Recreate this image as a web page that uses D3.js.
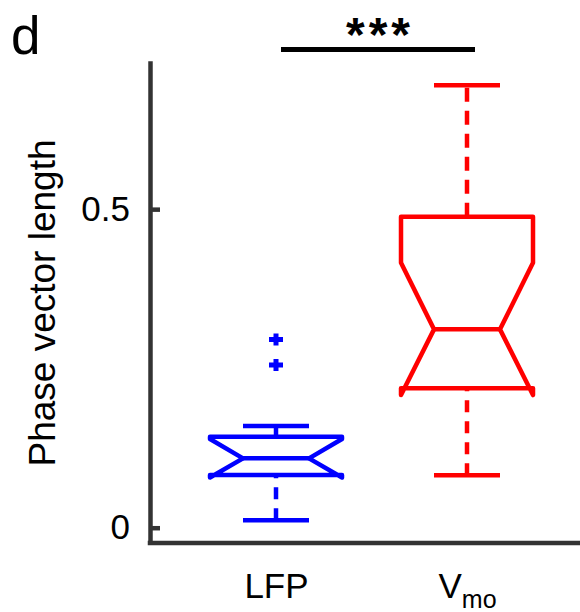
<!DOCTYPE html>
<html>
<head>
<meta charset="utf-8">
<script src="https://cdn.jsdelivr.net/npm/d3@7"></script>
<style>
  body { margin: 0; background: #fff; }
  text { font-family: "Liberation Sans", Arial, sans-serif; }
</style>
</head>
<body>
<div id="chart"></div>
<script>
// groups and box statistics
const groups = ['LFP', 'Vmo'];
const whiskerLo = [0.0116, 0.0822];
const q1 = [0.0827, 0.2187];
const notchLo = [0.0788, 0.2082];
const median = [0.1089, 0.3113];
const notchHi = [0.1392, 0.4158];
const q3 = [0.1428, 0.4879];
const whiskerHi = [0.1596, 0.6945];
const outliers = [[0.2956, 0.2553], []];
const colors = ['#0000ff', '#ff0000'];
const yTicks = [0, 0.5];

const width = 580, height = 612;
const axisColor = '#333333';
const boxW = 132;

const svg = d3.select('#chart').append('svg')
  .attr('width', width)
  .attr('height', height);

const y = d3.scaleLinear().domain([-0.024, 0.733]).range([543, 60.7]);
const x = d3.scalePoint().domain(groups).range([276, 467]);

// y axis
const yAxis = svg.append('g')
  .attr('transform', 'translate(150,0)')
  .call(d3.axisLeft(y).tickValues(yTicks).tickSizeInner(-10).tickSizeOuter(0)
    .tickPadding(20).tickFormat(d3.format('')));
yAxis.select('.domain').attr('stroke', axisColor).attr('stroke-width', 4.5);
yAxis.selectAll('.tick line').attr('stroke', axisColor).attr('stroke-width', 4.5);
yAxis.selectAll('.tick text').attr('font-size', 35).attr('fill', '#000')
  .attr('font-family', '"Liberation Sans", Arial, sans-serif');

// x baseline
svg.append('line')
  .attr('x1', 147.75).attr('x2', width)
  .attr('y1', y(-0.024)).attr('y2', y(-0.024))
  .attr('stroke', axisColor).attr('stroke-width', 4.5);

// x labels
const xAxis = svg.append('g')
  .attr('transform', 'translate(0,543)')
  .call(d3.axisBottom(x).tickSize(0).tickPadding(30));
xAxis.select('.domain').remove();
xAxis.selectAll('.tick text').text(null)
  .attr('font-size', 35).attr('fill', '#000')
  .attr('font-family', '"Liberation Sans", Arial, sans-serif')
  .each(function(d) {
    const t = d3.select(this);
    if (d === 'Vmo') {
      t.append('tspan').text('V');
      t.append('tspan').text('mo').attr('font-size', 25).attr('dy', 10);
    } else {
      t.text(d);
    }
  });

// y label
svg.append('text')
  .attr('transform', 'translate(55,303) rotate(-90)')
  .attr('text-anchor', 'middle')
  .attr('font-size', 37)
  .text('Phase vector length');

// panel letter
svg.append('text')
  .attr('x', 11).attr('y', 54)
  .attr('font-size', 53)
  .text('d');

// boxes
const boxes = svg.selectAll('.box')
  .data(groups.map((g, i) => ({
    g, i, lo: whiskerLo[i], q1: q1[i], nLo: notchLo[i], med: median[i],
    nHi: notchHi[i], q3: q3[i], hi: whiskerHi[i], out: outliers[i], c: colors[i]
  })))
  .enter().append('g').attr('class', 'box');

// whiskers
boxes.append('line')
  .attr('x1', d => x(d.g)).attr('x2', d => x(d.g))
  .attr('y1', d => y(d.q3)).attr('y2', d => y(d.hi))
  .attr('stroke', d => d.c).attr('stroke-width', 4.5)
  .attr('stroke-dasharray', '14,9');
boxes.append('line')
  .attr('x1', d => x(d.g)).attr('x2', d => x(d.g))
  .attr('y1', d => y(d.lo)).attr('y2', d => y(d.q1))
  .attr('stroke', d => d.c).attr('stroke-width', 4.5)
  .attr('stroke-dasharray', '12,9');

// caps
[['hi'], ['lo']].forEach(([k]) => {
  boxes.append('line')
    .attr('x1', d => x(d.g) - boxW / 4).attr('x2', d => x(d.g) + boxW / 4)
    .attr('y1', d => y(d[k])).attr('y2', d => y(d[k]))
    .attr('stroke', d => d.c).attr('stroke-width', 4.5);
});

// notched box outline
boxes.append('path')
  .attr('d', d => {
    const cx = x(d.g), L = cx - boxW / 2, R = cx + boxW / 2;
    const iL = cx - boxW / 4, iR = cx + boxW / 4;
    return d3.line()([
      [L, y(d.q3)], [R, y(d.q3)], [R, y(d.nHi)], [iR, y(d.med)], [R, y(d.nLo)],
      [R, y(d.q1)], [L, y(d.q1)], [L, y(d.nLo)], [iL, y(d.med)], [L, y(d.nHi)]
    ]) + 'Z';
  })
  .attr('fill', 'none')
  .attr('stroke', d => d.c).attr('stroke-width', 4.5)
  .attr('stroke-linejoin', 'round');

// median
boxes.append('line')
  .attr('x1', d => x(d.g) - boxW / 4).attr('x2', d => x(d.g) + boxW / 4)
  .attr('y1', d => y(d.med)).attr('y2', d => y(d.med))
  .attr('stroke', d => d.c).attr('stroke-width', 4.5);

// outliers
boxes.selectAll('.out')
  .data(d => d.out.map(v => ({ v, g: d.g, c: d.c })))
  .enter().append('path')
  .attr('class', 'out')
  .attr('d', d => {
    const cx = x(d.g), cy = y(d.v), s = 7;
    return `M${cx - s},${cy}H${cx + s}M${cx},${cy - s + 1}V${cy + s - 1}`;
  })
  .attr('stroke', d => d.c).attr('stroke-width', 5);

// significance bar
svg.append('line')
  .attr('x1', x('LFP') + 5).attr('x2', x('Vmo') + 8)
  .attr('y1', 49.5).attr('y2', 49.5)
  .attr('stroke', '#000').attr('stroke-width', 5);
svg.append('text')
  .attr('x', (x('LFP') + x('Vmo')) / 2 + 8.5).attr('y', 51)
  .attr('text-anchor', 'middle')
  .attr('font-size', 48).attr('font-weight', 'bold')
  .attr('letter-spacing', 4)
  .text('***');
</script>
</body>
</html>
